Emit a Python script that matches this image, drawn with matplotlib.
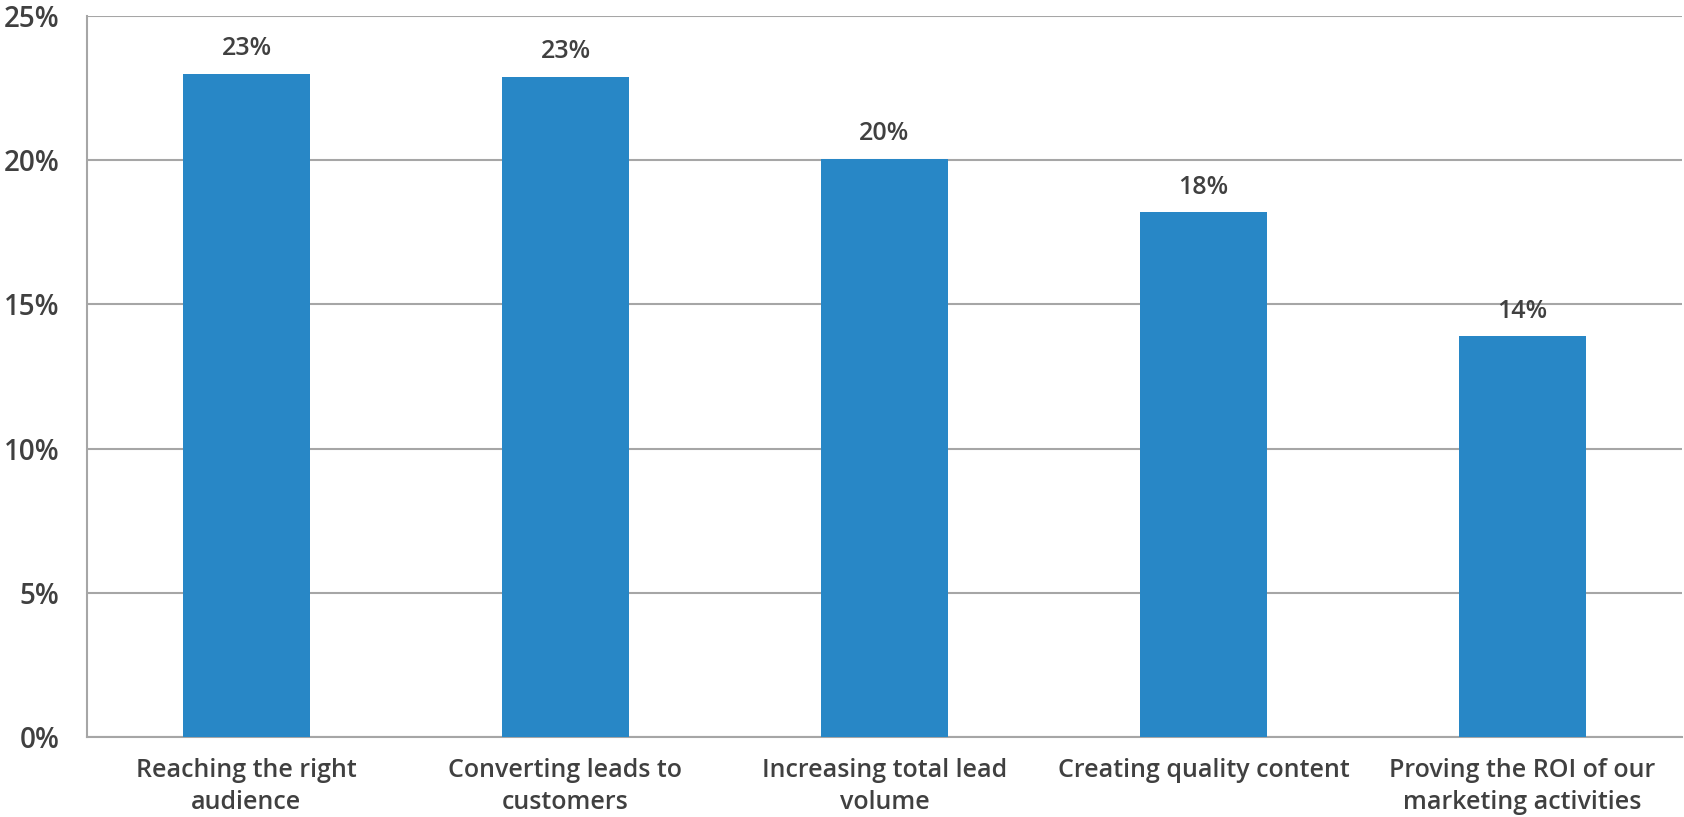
import matplotlib.pyplot as plt
import numpy as np

categories = ['Reaching the right\naudience', 'Converting leads to\ncustomers',
              'Increasing total lead\nvolume', 'Creating quality content',
              'Proving the ROI of our\nmarketing activities']
values = [23.0, 22.9, 20.05, 18.2, 13.9]
labels = ['23%', '23%', '20%', '18%', '14%']
yticks = [0, 5, 10, 15, 20, 25]

plt.rcParams['font.family'] = ['Open Sans', 'DejaVu Sans']
text_col = '#404040'
grid_col = '#a6a6a6'

fig = plt.figure(figsize=(16.84, 8.17), dpi=100)
ax = fig.add_axes([87 / 1684, 1 - 737 / 817, 1595 / 1684, 721 / 817])

x = np.arange(len(categories))
bars = ax.bar(x, values, width=0.4, color='#2887c6', zorder=3)

for b, lab in zip(bars, labels):
    ax.annotate(lab, (b.get_x() + b.get_width() / 2, b.get_height()),
                xytext=(0, 9), textcoords='offset points', ha='center', va='bottom',
                fontsize=18, fontweight='semibold', color=text_col)

ax.set_xlim(-0.5, len(categories) - 0.5)
ax.set_ylim(0, 25)
ax.set_yticks(yticks)
ax.set_yticklabels([f'{t}%' for t in yticks])
ax.set_xticks(x)
ax.set_xticklabels(categories, linespacing=1.4)
ax.yaxis.grid(True, color=grid_col, linewidth=1.5, zorder=0)
ax.tick_params(axis='both', length=0, labelcolor=text_col)
ax.tick_params(axis='x', pad=15, labelsize=18)
ax.tick_params(axis='y', pad=20, labelsize=20)
for t in ax.get_xticklabels() + ax.get_yticklabels():
    t.set_fontweight('semibold')

for s in ['top', 'right']:
    ax.spines[s].set_visible(False)
for s in ['left', 'bottom']:
    ax.spines[s].set_color(grid_col)
    ax.spines[s].set_linewidth(1.5)

fig.savefig('out.png', dpi=100)
